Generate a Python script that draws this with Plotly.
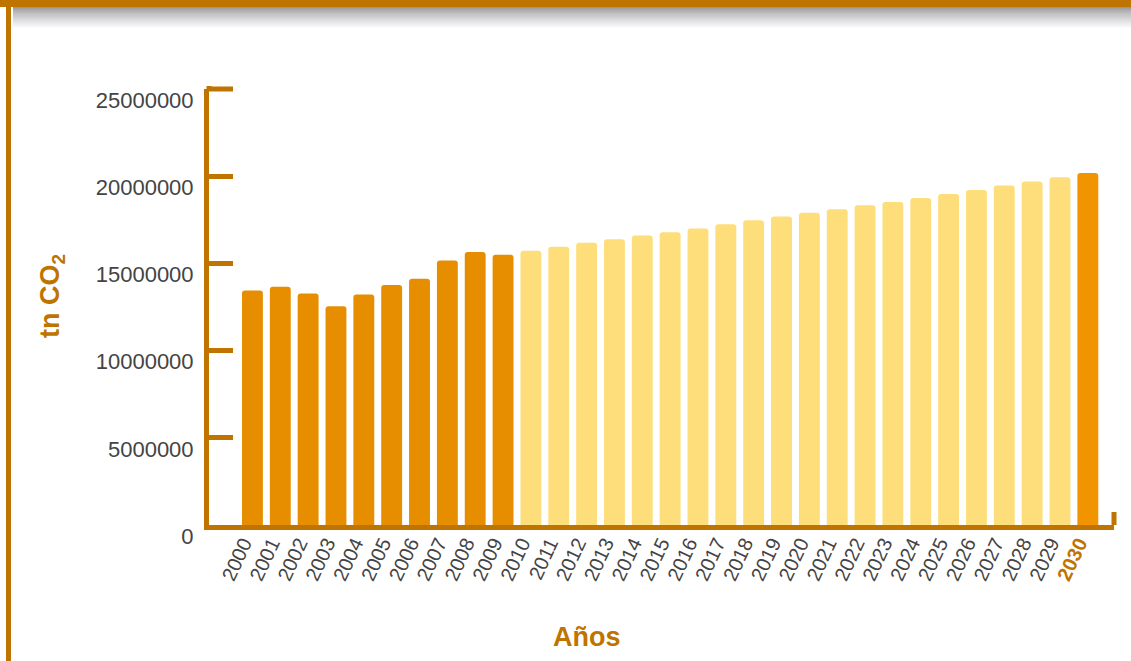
import plotly.graph_objects as go

# ---- data ----
years = [str(y) for y in range(2000, 2031)]
emissions = [
    13.44e6, 13.66e6, 13.28e6, 12.54e6, 13.22e6, 13.76e6, 14.12e6, 15.17e6, 15.65e6, 15.49e6,
    15.72e6, 15.95e6, 16.18e6, 16.39e6, 16.60e6, 16.79e6, 17.00e6, 17.25e6, 17.48e6, 17.69e6,
    17.90e6, 18.11e6, 18.34e6, 18.52e6, 18.75e6, 18.98e6, 19.21e6, 19.46e6, 19.69e6, 19.94e6,
    20.18e6,
]
period = ["hist"] * 10 + ["proj"] * 20 + ["goal"]
y_ticks = [0, 5000000, 10000000, 15000000, 20000000, 25000000]
y_tick_labels = ["0", "5000000", "10000000", "15000000", "20000000", "25000000"]
x_title = "Años"
y_title = "tn CO<sub>2</sub>"

# ---- style ----
W, H = 1131, 661
L, R, T, B = 209, 17, 89, 136
PW, PH = W - L - R, H - T - B
ORANGE = "#BF7400"
GRAY = "#444444"
bar_colors = {"hist": "#E68E00", "proj": "#FEDE7A", "goal": "#F29400"}
FONT = "Liberation Sans, Arial, sans-serif"
Y_MAX = y_ticks[-1]


def px_x(px):
    return (px - L) / PW


def px_y(py):
    return (H - B - py) / PH


tick_text = years[:-1] + [f"<b><span style='color:{ORANGE}'>{years[-1]}</span></b>"]

fig = go.Figure(
    go.Bar(
        x=years,
        y=emissions,
        marker=dict(color=[bar_colors[p] for p in period], cornerradius=3, line=dict(width=0)),
        hoverinfo="x+y",
    )
)

fig.update_layout(
    width=W,
    height=H,
    margin=dict(l=L, r=R, t=T, b=B),
    paper_bgcolor="white",
    plot_bgcolor="white",
    bargap=0.25,
    showlegend=False,
    font=dict(family=FONT, color=GRAY, size=20),
)

fig.update_xaxes(
    type="category",
    range=[-1.56, 30.94],
    showline=True,
    linewidth=5,
    linecolor=ORANGE,
    ticks="",
    tickmode="array",
    tickvals=years,
    ticktext=tick_text,
    tickangle=-65,
    ticklabelshift=-9,
    ticklabelstandoff=-6,
    tickfont=dict(size=20, color=GRAY, family=FONT),
    showgrid=False,
    zeroline=False,
)

fig.update_yaxes(
    range=[0, Y_MAX],
    showline=True,
    linewidth=5,
    linecolor=ORANGE,
    ticks="inside",
    ticklen=24,
    tickwidth=5,
    tickcolor=ORANGE,
    tickmode="array",
    tickvals=y_ticks,
    ticktext=y_tick_labels,
    ticklabelshift=11,
    ticklabelstandoff=6,
    tickfont=dict(size=22, color=GRAY, family=FONT),
    showgrid=False,
    zeroline=False,
)

annotations = [
    dict(
        x=px_x(587), xref="paper", y=px_y(637), yref="paper", text=f"<b>{x_title}</b>",
        showarrow=False, xanchor="center", yanchor="middle",
        font=dict(size=27, color=ORANGE, family=FONT),
    ),
    dict(
        x=px_x(52), xref="paper", y=px_y(296), yref="paper", text=f"<b>{y_title}</b>",
        showarrow=False, xanchor="center", yanchor="middle", textangle=-90,
        font=dict(size=27, color=ORANGE, family=FONT),
    ),
]
fig.update_layout(annotations=annotations)

shapes = []
# shadow under the top band
n = 22
for i in range(n):
    f = (i / (n - 1)) ** 0.75
    c = int(150 + (255 - 150) * f)
    shapes.append(
        dict(
            type="rect", xref="paper", yref="paper",
            x0=px_x(13), x1=px_x(W + 2), y0=px_y(7 + i), y1=px_y(8 + i),
            fillcolor=f"rgb({c},{c},{min(c + 2, 255)})", line=dict(width=0), layer="below",
        )
    )
# top band
shapes.append(
    dict(type="rect", xref="paper", yref="paper", x0=px_x(-2), x1=px_x(W + 2),
         y0=px_y(7), y1=px_y(-2), fillcolor=ORANGE, line=dict(width=0))
)
# left vertical band
shapes.append(
    dict(type="rect", xref="paper", yref="paper", x0=px_x(6), x1=px_x(11),
         y0=px_y(H + 2), y1=px_y(0), fillcolor=ORANGE, line=dict(width=0))
)
# top tick of y axis (plotly hides inside ticks at the range edge)
shapes.append(
    dict(type="line", xref="paper", yref="paper", x0=px_x(207), x1=px_x(233),
         y0=1, y1=1, line=dict(color=ORANGE, width=5))
)
# y axis line extension above top tick
shapes.append(
    dict(type="line", xref="paper", yref="paper", x0=0, x1=0,
         y0=1, y1=px_y(86), line=dict(color=ORANGE, width=5))
)
# right end cap of x axis
shapes.append(
    dict(type="line", xref="paper", yref="paper", x0=px_x(1114), x1=px_x(1114),
         y0=0, y1=px_y(512), line=dict(color=ORANGE, width=5))
)
fig.update_layout(shapes=shapes)

fig.write_html(
    "out.html",
    config={"displayModeBar": False},
    post_script="document.body.style.margin='0';document.body.style.overflow='hidden';",
)
